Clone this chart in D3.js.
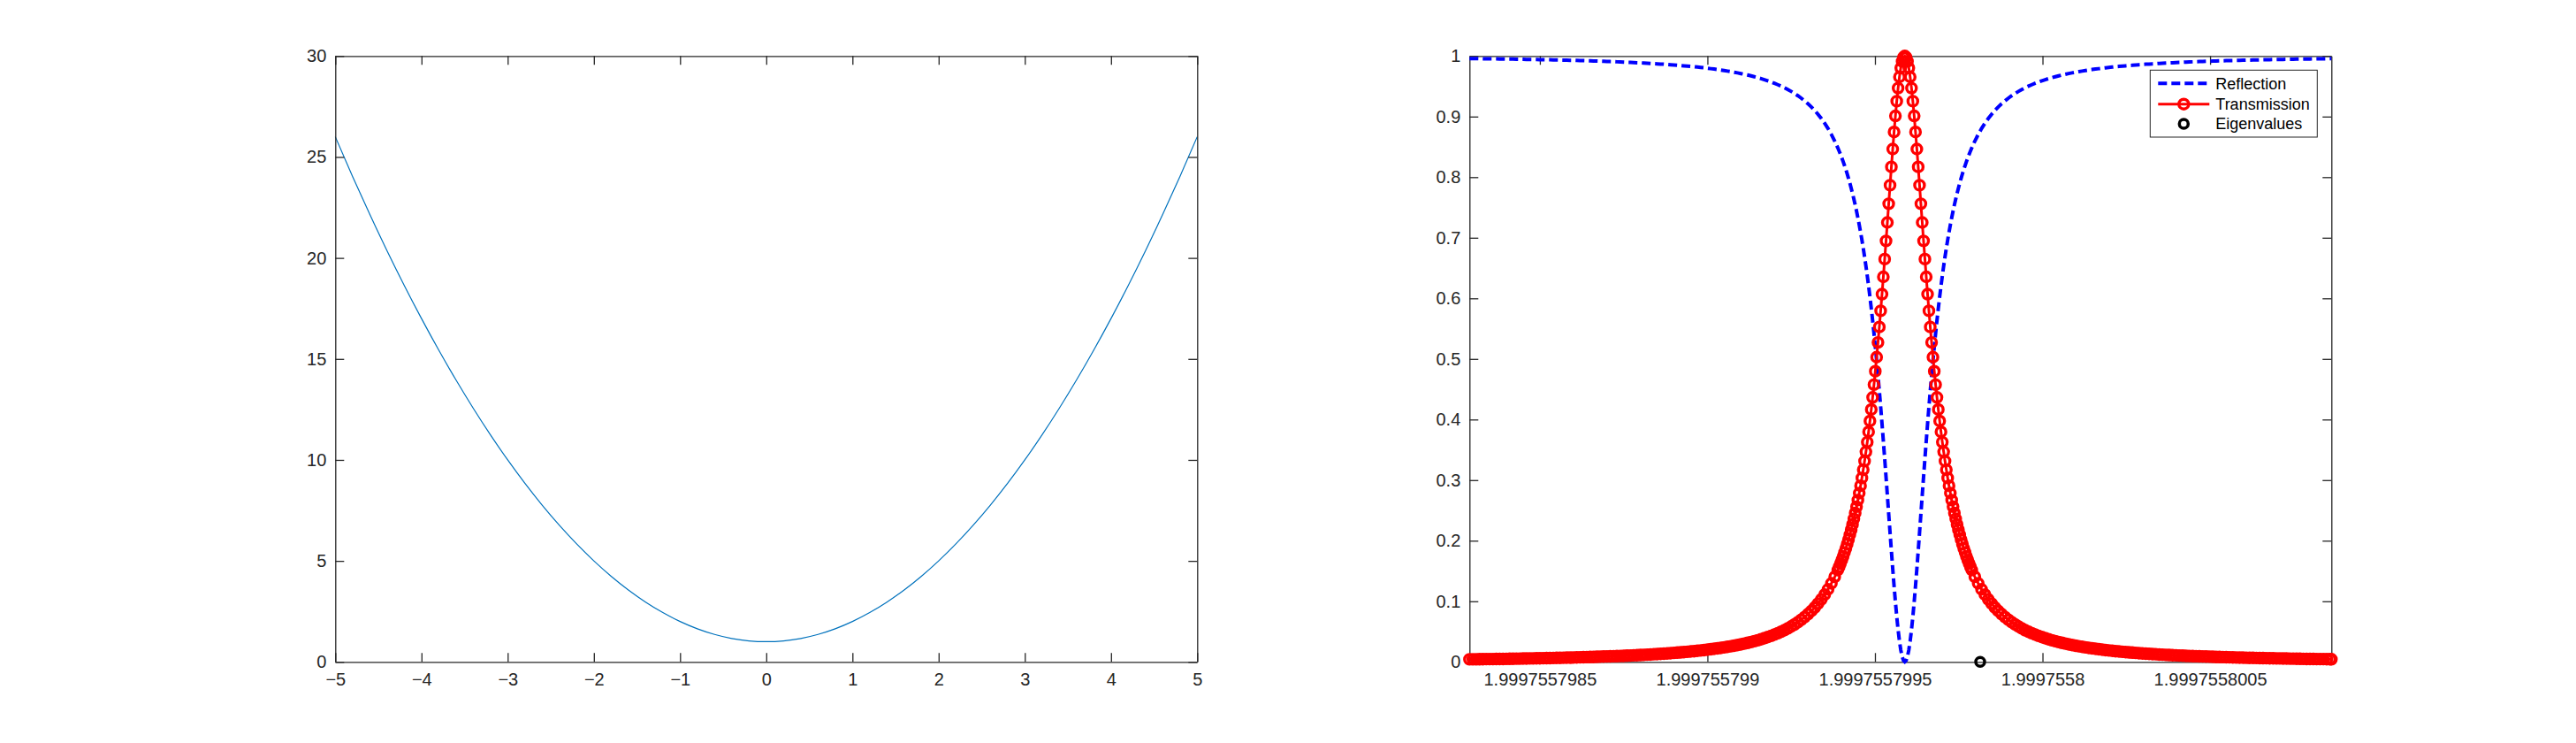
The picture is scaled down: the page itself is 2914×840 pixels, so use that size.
<!DOCTYPE html>
<meta charset="utf-8">
<style>
body { margin: 0; background: #fff; }
svg { display: block; }
.axis text { font-family: "Liberation Sans", Arial, sans-serif; font-size: 20px; fill: #262626; }
.axis path, .axis line { stroke: #262626; stroke-width: 1.3; }
.legend text { font-family: "Liberation Sans", Arial, sans-serif; font-size: 18px; fill: #000; }
</style>
<body>
<svg width="2914" height="840"></svg>

<script src="https://cdn.jsdelivr.net/npm/d3@7/dist/d3.min.js"></script>
<script>

// ---- left panel: parabola ----
var paraX = [-5, -4.8, -4.6, -4.4, -4.2, -4, -3.8, -3.6, -3.4, -3.2, -3, -2.8, -2.6, -2.4, -2.2, -2, -1.8, -1.6, -1.4, -1.2, -1,
  -0.8, -0.6, -0.4, -0.2, 0, 0.2, 0.4, 0.6, 0.8, 1, 1.2, 1.4, 1.6, 1.8, 2, 2.2, 2.4, 2.6, 2.8, 3,
  3.2, 3.4, 3.6, 3.8, 4, 4.2, 4.4, 4.6, 4.8, 5];
var paraY = [26, 24.04, 22.16, 20.36, 18.64, 17, 15.44, 13.96, 12.56, 11.24, 10, 8.84, 7.76, 6.76, 5.84, 5, 4.24, 3.56, 2.96, 2.44, 2,
  1.64, 1.36, 1.16, 1.04, 1, 1.04, 1.16, 1.36, 1.64, 2, 2.44, 2.96, 3.56, 4.24, 5, 5.84, 6.76, 7.76, 8.84, 10,
  11.24, 12.56, 13.96, 15.44, 17, 18.64, 20.36, 22.16, 24.04, 26];
var leftXTicks = [-5, -4, -3, -2, -1, 0, 1, 2, 3, 4, 5];
var leftYTicks = [0, 5, 10, 15, 20, 25, 30];

// ---- right panel: frequency sweep ----
// sweep frequency = sweepStart + offset * 1e-12
var sweepStart = 1.99975579829;
var sweepOffset = [
  // left wing
  0, 10, 20, 30, 40, 50, 60, 70, 80, 90,
  100, 110, 120, 130, 140, 150, 160, 170, 180, 190,
  200, 210, 220, 230, 240, 250, 260, 270, 280, 290,
  300, 310, 320, 330, 340, 350, 360, 370, 380, 390,
  400, 410, 420, 430, 440, 450, 460, 470, 480, 490,
  500, 510, 520, 530, 540, 550, 560, 570, 580, 590,
  600, 610, 620, 630, 640, 650, 660, 670, 680, 690,
  700, 710, 720, 730, 740, 750, 760, 770, 780, 790,
  800, 810, 820, 830, 840, 850, 860, 870, 880, 890,
  900, 910, 920, 930, 940, 950, 960, 970, 980, 990,
  1000, 1010, 1020, 1030, 1040, 1050, 1060, 1070, 1080, 1090,
  // resonance
  1099, 1103, 1107, 1111, 1115, 1119, 1123, 1127, 1131, 1135,
  1139, 1143, 1147, 1151, 1155, 1159, 1163, 1167, 1171, 1175,
  1179, 1183, 1187, 1191, 1195, 1199, 1203, 1207, 1211, 1215,
  1219, 1223, 1227, 1231, 1235, 1239, 1243, 1247, 1251, 1255,
  1259, 1263, 1267, 1271, 1275, 1279, 1283, 1287, 1291, 1295,
  1299, 1303, 1307, 1311, 1315, 1319, 1323, 1327, 1331, 1335,
  1339, 1343, 1347, 1351, 1355, 1359, 1363, 1367, 1371, 1375,
  1379, 1383, 1387, 1391, 1395, 1399, 1403, 1407, 1411, 1415,
  1419, 1423, 1427, 1431, 1435, 1439, 1443, 1447, 1451, 1455,
  1459, 1463, 1467, 1471, 1475, 1479, 1483, 1487, 1491, 1495,
  1499,
  // right wing
  1508, 1518, 1528, 1538, 1548, 1558, 1568, 1578, 1588, 1598,
  1608, 1618, 1628, 1638, 1648, 1658, 1668, 1678, 1688, 1698,
  1708, 1718, 1728, 1738, 1748, 1758, 1768, 1778, 1788, 1798,
  1808, 1818, 1828, 1838, 1848, 1858, 1868, 1878, 1888, 1898,
  1908, 1918, 1928, 1938, 1948, 1958, 1968, 1978, 1988, 1998,
  2008, 2018, 2028, 2038, 2048, 2058, 2068, 2078, 2088, 2098,
  2108, 2118, 2128, 2138, 2148, 2158, 2168, 2178, 2188, 2198,
  2208, 2218, 2228, 2238, 2248, 2258, 2268, 2278, 2288, 2298,
  2308, 2318, 2328, 2338, 2348, 2358, 2368, 2378, 2388, 2398,
  2408, 2418, 2428, 2438, 2448, 2458, 2468, 2478, 2488, 2498,
  2508, 2518, 2528, 2538, 2548, 2558, 2568, 2572
];

var transmission = [
  // left wing
  0.0042, 0.0043, 0.0043, 0.0044, 0.0045, 0.0046, 0.0046, 0.0047, 0.0048, 0.0049,
  0.0049, 0.0050, 0.0051, 0.0052, 0.0053, 0.0054, 0.0055, 0.0056, 0.0057, 0.0058,
  0.0059, 0.0060, 0.0061, 0.0062, 0.0063, 0.0064, 0.0066, 0.0067, 0.0068, 0.0070,
  0.0071, 0.0072, 0.0074, 0.0075, 0.0077, 0.0079, 0.0080, 0.0082, 0.0084, 0.0086,
  0.0088, 0.0090, 0.0092, 0.0094, 0.0096, 0.0098, 0.0100, 0.0103, 0.0105, 0.0108,
  0.0111, 0.0113, 0.0116, 0.0119, 0.0122, 0.0126, 0.0129, 0.0133, 0.0136, 0.0140,
  0.0144, 0.0148, 0.0153, 0.0157, 0.0162, 0.0167, 0.0172, 0.0177, 0.0183, 0.0189,
  0.0195, 0.0202, 0.0209, 0.0216, 0.0223, 0.0231, 0.0240, 0.0249, 0.0258, 0.0268,
  0.0279, 0.0290, 0.0302, 0.0314, 0.0328, 0.0342, 0.0357, 0.0373, 0.0391, 0.0409,
  0.0429, 0.0451, 0.0474, 0.0498, 0.0525, 0.0554, 0.0585, 0.0619, 0.0656, 0.0696,
  0.0740, 0.0788, 0.0840, 0.0898, 0.0962, 0.1033, 0.1111, 0.1198, 0.1296, 0.1405,
  // resonance
  0.1515, 0.1567, 0.1623, 0.1681, 0.1742, 0.1806, 0.1873, 0.1944, 0.2019, 0.2098,
  0.2181, 0.2268, 0.2361, 0.2458, 0.2561, 0.2670, 0.2785, 0.2907, 0.3035, 0.3171,
  0.3315, 0.3467, 0.3627, 0.3797, 0.3976, 0.4166, 0.4365, 0.4576, 0.4797, 0.5030,
  0.5273, 0.5528, 0.5794, 0.6069, 0.6355, 0.6648, 0.6948, 0.7253, 0.7561, 0.7867,
  0.8170, 0.8464, 0.8746, 0.9011, 0.9254, 0.9470, 0.9654, 0.9803, 0.9911, 0.9978,
  1.0000, 0.9978, 0.9911, 0.9803, 0.9654, 0.9470, 0.9254, 0.9011, 0.8746, 0.8464,
  0.8170, 0.7867, 0.7561, 0.7253, 0.6948, 0.6648, 0.6355, 0.6069, 0.5794, 0.5528,
  0.5273, 0.5030, 0.4797, 0.4576, 0.4365, 0.4166, 0.3976, 0.3797, 0.3627, 0.3467,
  0.3315, 0.3171, 0.3035, 0.2907, 0.2785, 0.2670, 0.2561, 0.2458, 0.2361, 0.2268,
  0.2181, 0.2098, 0.2019, 0.1944, 0.1873, 0.1806, 0.1742, 0.1681, 0.1623, 0.1567,
  0.1515,
  // right wing
  0.1405, 0.1296, 0.1198, 0.1111, 0.1033, 0.0962, 0.0898, 0.0840, 0.0788, 0.0740,
  0.0696, 0.0656, 0.0619, 0.0585, 0.0554, 0.0525, 0.0498, 0.0474, 0.0451, 0.0429,
  0.0409, 0.0391, 0.0373, 0.0357, 0.0342, 0.0328, 0.0314, 0.0302, 0.0290, 0.0279,
  0.0268, 0.0258, 0.0249, 0.0240, 0.0231, 0.0223, 0.0216, 0.0209, 0.0202, 0.0195,
  0.0189, 0.0183, 0.0177, 0.0172, 0.0167, 0.0162, 0.0157, 0.0153, 0.0148, 0.0144,
  0.0140, 0.0136, 0.0133, 0.0129, 0.0126, 0.0122, 0.0119, 0.0116, 0.0113, 0.0111,
  0.0108, 0.0105, 0.0103, 0.0100, 0.0098, 0.0096, 0.0094, 0.0092, 0.0090, 0.0088,
  0.0086, 0.0084, 0.0082, 0.0080, 0.0079, 0.0077, 0.0075, 0.0074, 0.0072, 0.0071,
  0.0070, 0.0068, 0.0067, 0.0066, 0.0064, 0.0063, 0.0062, 0.0061, 0.0060, 0.0059,
  0.0058, 0.0057, 0.0056, 0.0055, 0.0054, 0.0053, 0.0052, 0.0051, 0.0050, 0.0049,
  0.0049, 0.0048, 0.0047, 0.0046, 0.0046, 0.0045, 0.0044, 0.0044
];

var reflection = [
  // left wing
  0.9958, 0.9957, 0.9957, 0.9956, 0.9955, 0.9954, 0.9954, 0.9953, 0.9952, 0.9951,
  0.9951, 0.9950, 0.9949, 0.9948, 0.9947, 0.9946, 0.9945, 0.9944, 0.9943, 0.9942,
  0.9941, 0.9940, 0.9939, 0.9938, 0.9937, 0.9936, 0.9934, 0.9933, 0.9932, 0.9930,
  0.9929, 0.9928, 0.9926, 0.9925, 0.9923, 0.9921, 0.9920, 0.9918, 0.9916, 0.9914,
  0.9912, 0.9910, 0.9908, 0.9906, 0.9904, 0.9902, 0.9900, 0.9897, 0.9895, 0.9892,
  0.9889, 0.9887, 0.9884, 0.9881, 0.9878, 0.9874, 0.9871, 0.9867, 0.9864, 0.9860,
  0.9856, 0.9852, 0.9847, 0.9843, 0.9838, 0.9833, 0.9828, 0.9823, 0.9817, 0.9811,
  0.9805, 0.9798, 0.9791, 0.9784, 0.9777, 0.9769, 0.9760, 0.9751, 0.9742, 0.9732,
  0.9721, 0.9710, 0.9698, 0.9686, 0.9672, 0.9658, 0.9643, 0.9627, 0.9609, 0.9591,
  0.9571, 0.9549, 0.9526, 0.9502, 0.9475, 0.9446, 0.9415, 0.9381, 0.9344, 0.9304,
  0.9260, 0.9212, 0.9160, 0.9102, 0.9038, 0.8967, 0.8889, 0.8802, 0.8704, 0.8595,
  // resonance
  0.8485, 0.8433, 0.8377, 0.8319, 0.8258, 0.8194, 0.8127, 0.8056, 0.7981, 0.7902,
  0.7819, 0.7732, 0.7639, 0.7542, 0.7439, 0.7330, 0.7215, 0.7093, 0.6965, 0.6829,
  0.6685, 0.6533, 0.6373, 0.6203, 0.6024, 0.5834, 0.5635, 0.5424, 0.5203, 0.4970,
  0.4727, 0.4472, 0.4206, 0.3931, 0.3645, 0.3352, 0.3052, 0.2747, 0.2439, 0.2133,
  0.1830, 0.1536, 0.1254, 0.0989, 0.0746, 0.0530, 0.0346, 0.0197, 0.0089, 0.0022,
  0.0000, 0.0022, 0.0089, 0.0197, 0.0346, 0.0530, 0.0746, 0.0989, 0.1254, 0.1536,
  0.1830, 0.2133, 0.2439, 0.2747, 0.3052, 0.3352, 0.3645, 0.3931, 0.4206, 0.4472,
  0.4727, 0.4970, 0.5203, 0.5424, 0.5635, 0.5834, 0.6024, 0.6203, 0.6373, 0.6533,
  0.6685, 0.6829, 0.6965, 0.7093, 0.7215, 0.7330, 0.7439, 0.7542, 0.7639, 0.7732,
  0.7819, 0.7902, 0.7981, 0.8056, 0.8127, 0.8194, 0.8258, 0.8319, 0.8377, 0.8433,
  0.8485,
  // right wing
  0.8595, 0.8704, 0.8802, 0.8889, 0.8967, 0.9038, 0.9102, 0.9160, 0.9212, 0.9260,
  0.9304, 0.9344, 0.9381, 0.9415, 0.9446, 0.9475, 0.9502, 0.9526, 0.9549, 0.9571,
  0.9591, 0.9609, 0.9627, 0.9643, 0.9658, 0.9672, 0.9686, 0.9698, 0.9710, 0.9721,
  0.9732, 0.9742, 0.9751, 0.9760, 0.9769, 0.9777, 0.9784, 0.9791, 0.9798, 0.9805,
  0.9811, 0.9817, 0.9823, 0.9828, 0.9833, 0.9838, 0.9843, 0.9847, 0.9852, 0.9856,
  0.9860, 0.9864, 0.9867, 0.9871, 0.9874, 0.9878, 0.9881, 0.9884, 0.9887, 0.9889,
  0.9892, 0.9895, 0.9897, 0.9900, 0.9902, 0.9904, 0.9906, 0.9908, 0.9910, 0.9912,
  0.9914, 0.9916, 0.9918, 0.9920, 0.9921, 0.9923, 0.9925, 0.9926, 0.9928, 0.9929,
  0.9930, 0.9932, 0.9933, 0.9934, 0.9936, 0.9937, 0.9938, 0.9939, 0.9940, 0.9941,
  0.9942, 0.9943, 0.9944, 0.9945, 0.9946, 0.9947, 0.9948, 0.9949, 0.9950, 0.9951,
  0.9951, 0.9952, 0.9953, 0.9954, 0.9954, 0.9955, 0.9956, 0.9956
];

var eigenOffset = [1524];
var eigenValue = [0];

var rightXTicks = [1.9997557985, 1.999755799, 1.9997557995, 1.9997558, 1.9997558005];
var rightYTicks = [0, 0.1, 0.2, 0.3, 0.4, 0.5, 0.6, 0.7, 0.8, 0.9, 1];
var legendLabels = ["Reflection", "Transmission", "Eigenvalues"];

// ---- layout ----
var svg = d3.select("svg");
var plotTop = 63.3, plotBottom = 748.3;
var leftPanel = {x0: 379.3, x1: 1354.3},
    rightPanel = {x0: 1662.3, x1: 2637.3};
var tickLen = 10;

function drawBox(g, x, y, xTicks, yTicks, xFmt, yFmt) {
  g.append("g").attr("class", "axis")
      .attr("transform", "translate(0," + plotBottom + ")")
      .call(d3.axisBottom(x).tickValues(xTicks).tickFormat(xFmt)
        .tickSizeInner(-tickLen).tickSizeOuter(0).tickPadding(13));
  g.append("g").attr("class", "axis")
      .attr("transform", "translate(0," + plotTop + ")")
      .call(d3.axisTop(x).tickValues(xTicks).tickFormat("")
        .tickSizeInner(-tickLen).tickSizeOuter(0));
  g.append("g").attr("class", "axis")
      .attr("transform", "translate(" + x.range()[0] + ",0)")
      .call(d3.axisLeft(y).tickValues(yTicks).tickFormat(yFmt)
        .tickSizeInner(-tickLen).tickSizeOuter(0).tickPadding(10));
  g.append("g").attr("class", "axis")
      .attr("transform", "translate(" + x.range()[1] + ",0)")
      .call(d3.axisRight(y).tickValues(yTicks).tickFormat("")
        .tickSizeInner(-tickLen).tickSizeOuter(0));
}

// ---- left panel ----
var xL = d3.scaleLinear().domain([-5, 5]).range([leftPanel.x0, leftPanel.x1]);
var yL = d3.scaleLinear().domain([0, 30]).range([plotBottom, plotTop]);
var left = svg.append("g");

var paraLine = d3.line()
    .curve(d3.curveMonotoneX)
    .x(function(d, i) { return xL(paraX[i]); })
    .y(function(d) { return yL(d); });

left.append("path")
    .datum(paraY)
    .attr("fill", "none")
    .attr("stroke", "#0072BD")
    .attr("stroke-width", 1.2)
    .attr("d", paraLine);

drawBox(left, xL, yL, leftXTicks, leftYTicks, d3.format("d"), d3.format("d"));

// ---- right panel ----
var sweep = sweepOffset.map(function(o, i) {
  return {f: sweepStart + o * 1e-12, t: transmission[i], r: reflection[i]};
});
var eigen = eigenOffset.map(function(o, i) {
  return {f: sweepStart + o * 1e-12, v: eigenValue[i]};
});

var xR = d3.scaleLinear()
    .domain(d3.extent(sweep, function(d) { return d.f; }))
    .range([rightPanel.x0, rightPanel.x1]);
var yR = d3.scaleLinear().domain([0, 1]).range([plotBottom, plotTop]);
var right = svg.append("g");

var reflLine = d3.line()
    .x(function(d) { return xR(d.f); })
    .y(function(d) { return yR(d.r); });
var transLine = d3.line()
    .x(function(d) { return xR(d.f); })
    .y(function(d) { return yR(d.t); });

drawBox(right, xR, yR, rightXTicks, rightYTicks, d3.format(".10~f"), d3.format(".1~f"));

right.append("path")
    .datum(sweep)
    .attr("fill", "none")
    .attr("stroke", "#0000FF")
    .attr("stroke-width", 4)
    .attr("stroke-dasharray", "10,5")
    .attr("d", reflLine);

right.append("path")
    .datum(sweep)
    .attr("fill", "none")
    .attr("stroke", "#FF0000")
    .attr("stroke-width", 3)
    .attr("d", transLine);

right.append("g").selectAll("circle")
    .data(sweep)
  .enter().append("circle")
    .attr("cx", function(d) { return xR(d.f); })
    .attr("cy", function(d) { return yR(d.t); })
    .attr("r", 5.5)
    .attr("fill", "none")
    .attr("stroke", "#FF0000")
    .attr("stroke-width", 3.4);

right.append("g").selectAll("circle")
    .data(eigen)
  .enter().append("circle")
    .attr("cx", function(d) { return xR(d.f); })
    .attr("cy", function(d) { return yR(d.v); })
    .attr("r", 5)
    .attr("fill", "none")
    .attr("stroke", "#000")
    .attr("stroke-width", 3.5);

// ---- legend ----
var legend = right.append("g").attr("class", "legend")
    .attr("transform", "translate(2432.3,79.3)");

legend.append("rect")
    .attr("width", 189)
    .attr("height", 75.7)
    .attr("fill", "#fff")
    .attr("stroke", "#262626")
    .attr("stroke-width", 1);

var rowY = [15, 38.4, 60.7];

legend.append("line")
    .attr("x1", 9).attr("x2", 67).attr("y1", rowY[0]).attr("y2", rowY[0])
    .attr("stroke", "#0000FF").attr("stroke-width", 4)
    .attr("stroke-dasharray", "10,5");

legend.append("line")
    .attr("x1", 9).attr("x2", 67).attr("y1", rowY[1]).attr("y2", rowY[1])
    .attr("stroke", "#FF0000").attr("stroke-width", 3);
legend.append("circle")
    .attr("cx", 38).attr("cy", rowY[1]).attr("r", 5.5)
    .attr("fill", "none").attr("stroke", "#FF0000").attr("stroke-width", 3.4);

legend.append("circle")
    .attr("cx", 38).attr("cy", rowY[2]).attr("r", 5)
    .attr("fill", "none").attr("stroke", "#000").attr("stroke-width", 3.5);

legend.selectAll("text")
    .data(legendLabels)
  .enter().append("text")
    .attr("x", 74)
    .attr("y", function(d, i) { return rowY[i]; })
    .attr("dy", "0.35em")
    .text(function(d) { return d; });

</script>
</body>
